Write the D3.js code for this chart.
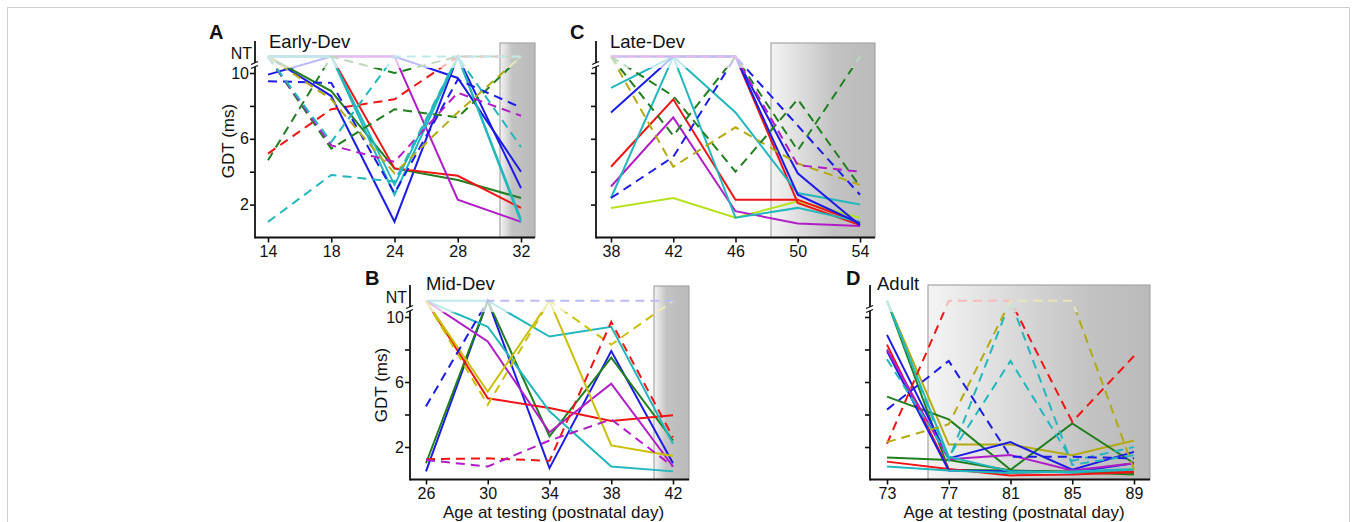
<!DOCTYPE html>
<html><head><meta charset="utf-8">
<script src="https://cdn.jsdelivr.net/npm/d3@7"></script>
<style>
body{margin:0;background:#fff}
svg{display:block}
text{font-family:"Liberation Sans",Arial,Helvetica,sans-serif;fill:#111}
</style>
</head><body>
<svg id="chart" width="1357" height="522"></svg>
<script>
// ---------- DATA ----------
const NT = 11; // "not testable" level, drawn above the axis break
const gdtTicks = [2, 4, 6, 8, 10];
const gdtLabelled = [2, 6, 10];

// A  Early-Dev
const earlyDays = ["14", "18", "24", "28", "32"];
const earlyKeys = ["blue","blue","green","red","magenta","cyan","cyan",
  "green-dash","green-dash","red-dash","blue-dash","magenta-dash","olive-dash","cyan-dash","cyan-dash"];
const earlyValues = [
  [9.9, NT, NT, 9.7, 4.0],
  [NT, 8.6, 0.96, NT, 3.0],
  [NT, 8.9, 4.2, 3.5, 2.4],
  [NT, NT, 4.2, 3.75, 1.8],
  [NT, NT, NT, 2.3, 0.95],
  [NT, NT, 2.6, NT, 0.95],
  [NT, NT, 3.2, NT, 1.1],
  [4.7, NT, 10.0, NT, NT],
  [NT, 5.4, 7.8, 7.3, NT],
  [5.1, 7.8, 8.4, NT, NT],
  [9.5, 9.4, 2.7, 9.6, 7.9],
  [NT, 5.6, 4.6, 8.8, 7.4],
  [NT, 8.4, 3.9, 7.6, NT],
  [0.95, 3.8, 3.4, NT, 5.5],
  [NT, 5.8, NT, NT, NT]
];

// B  Mid-Dev
const midDays = ["26", "30", "34", "38", "42"];
const midKeys = ["blue","green","red","cyan","cyan","magenta","yellow",
  "yellow-dash","blue-dash","red-dash","magenta-dash"];
const midValues = [
  [0.5, NT, 0.7, 7.9, 1.0],
  [1.0, NT, 2.65, 7.5, 2.4],
  [NT, 5.0, 4.4, 3.6, 3.95],
  [NT, 9.4, 4.2, 0.8, 0.5],
  [NT, NT, 8.8, 9.4, 2.2],
  [NT, 8.5, 2.9, 5.9, 0.8],
  [NT, 5.4, NT, 2.1, 1.45],
  [NT, 4.6, NT, 8.3, NT],
  [4.5, NT, NT, NT, NT],
  [1.25, 1.3, 1.15, 9.7, 2.6],
  [1.2, 0.8, 2.4, 3.7, 0.8]
];

// C  Late-Dev
const lateDays = ["38", "42", "46", "50", "54"];
const lateKeys = ["lime","red","red","magenta","cyan","cyan","blue","blue",
  "blue-dash","olive-dash","green-dash","green-dash","magenta-dash"];
const lateValues = [
  [1.8, 2.4, 1.2, 2.2, 1.2],
  [4.3, 8.4, 2.3, 2.3, 0.9],
  [NT, NT, NT, 2.1, 0.75],
  [3.1, 7.3, 1.6, 0.85, 0.7],
  [9.1, NT, 7.6, 2.7, 2.0],
  [2.4, NT, 1.2, 1.8, 0.95],
  [7.6, NT, NT, 3.9, 0.75],
  [NT, NT, NT, 2.6, 0.85],
  [2.4, 4.9, NT, 6.8, 2.6],
  [NT, 4.3, 6.7, 4.5, 3.2],
  [NT, 8.6, 4.0, 8.4, 3.1],
  [NT, 6.2, NT, 5.3, NT],
  [NT, NT, NT, 4.4, 4.0]
];

// D  Adult
const adultDays = ["73", "77", "81", "85", "89"];
const adultKeys = ["olive","green","green","green","red","red","blue","blue","magenta","cyan","cyan",
  "cyan-dash","cyan-dash","red-dash","olive-dash","blue-dash"];
const adultValues = [
  [NT, 2.15, 2.15, 1.5, 2.4],
  [NT, 0.6, 0.55, 0.5, 0.4],
  [5.1, 3.7, 0.6, 3.45, 1.0],
  [1.35, 1.2, 0.55, 0.45, 0.3],
  [8.3, 0.6, 0.4, 0.5, 0.5],
  [1.1, 0.65, 0.25, 0.3, 0.45],
  [8.9, 1.3, 2.3, 0.6, 1.7],
  [7.9, 0.55, 0.5, 0.45, 1.0],
  [8.0, 1.25, 1.5, 0.55, 1.0],
  [NT, 1.4, 0.5, 0.45, 0.6],
  [0.8, 0.55, 0.4, 0.5, 0.65],
  [7.4, 1.4, 7.3, 1.15, 2.0],
  [NT, 1.2, NT, 0.9, 1.5],
  [2.2, NT, NT, 3.55, 7.6],
  [2.3, 3.4, NT, NT, 0.6],
  [4.3, 7.3, 1.4, 1.4, 1.3]
];

// ---------- STYLE ----------
const palette = {
  blue: "#1c1ce6", red: "#f01414", green: "#1f7f1f", cyan: "#22b7bd",
  magenta: "#b01dc6", yellow: "#c9c005", olive: "#b3aa12", lime: "#b4e21c"
};
function styleOf(key) {
  const [c, d] = key.split("-");
  return { color: palette[c], dash: d === "dash" ? "9,6" : null };
}
const pale = c => d3.interpolateRgb(c, "#ffffff")(0.7);

const W = 1357, H = 522;
const svg = d3.select("#chart");
const defs = svg.append("defs");

svg.append("rect").attr("x", 7.5).attr("y", 7.5).attr("width", 1342).attr("height", 540)
  .attr("fill", "none").attr("stroke", "#cfcfcf");

const panels = [
  { id: "A", title: "Early-Dev", days: earlyDays, keys: earlyKeys, values: earlyValues,
    axisX: 255, x0: 268, x1: 521, xEnd: 535, yZero: 237.5, y10: 73, yTop: 41, axisY: 237.5,
    box: [500, 43, 535, 237.5], gradStop: 0.35, labels: true, xTitle: false,
    letter: [209, 39], titleAt: [269, 48], yTitle: [228, 141] },
  { id: "C", title: "Late-Dev", days: lateDays, keys: lateKeys, values: lateValues,
    axisX: 596, x0: 611, x1: 860, xEnd: 875, yZero: 237.5, y10: 73, yTop: 41, axisY: 237.5,
    box: [771, 43, 875, 237.5], gradStop: 0.6, labels: false, xTitle: false,
    letter: [570, 39], titleAt: [610, 48] },
  { id: "B", title: "Mid-Dev", days: midDays, keys: midKeys, values: midValues,
    axisX: 410, x0: 426, x1: 673, xEnd: 689, yZero: 479.5, y10: 317, yTop: 285, axisY: 479.5,
    box: [654, 286, 689, 479.5], gradStop: 0.35, labels: true, xTitle: true,
    letter: [365, 285], titleAt: [426, 290], yTitle: [381, 385] },
  { id: "D", title: "Adult", days: adultDays, keys: adultKeys, values: adultValues,
    axisX: 870, x0: 887, x1: 1134, xEnd: 1150, yZero: 479.5, y10: 317, yTop: 285, axisY: 479.5,
    box: [928, 285, 1150, 479.5], gradStop: 0.72, labels: false, xTitle: true,
    letter: [846, 285], titleAt: [877, 290] }
];

function drawPanel(p) {
  const g = svg.append("g");
  const x = d3.scalePoint().domain(p.days).range([p.x0, p.x1]);
  const y = d3.scaleLinear().domain([0, 10]).range([p.yZero, p.y10]);

  // shaded box
  const gid = "grad" + p.id;
  const gr = defs.append("linearGradient").attr("id", gid)
    .attr("x1", 0).attr("x2", 1).attr("y1", 0).attr("y2", 0);
  gr.append("stop").attr("offset", 0).attr("stop-color", "#f4f4f4");
  gr.append("stop").attr("offset", p.gradStop).attr("stop-color", "#c3c3c3");
  gr.append("stop").attr("offset", 1).attr("stop-color", "#bababa");
  g.append("rect").attr("x", p.box[0]).attr("y", p.box[1])
    .attr("width", p.box[2] - p.box[0]).attr("height", p.box[3] - p.box[1])
    .attr("fill", `url(#${gid})`).attr("stroke", "#a6a6a6").attr("stroke-width", 1.2);

  // clip regions: above the break (faded) / below the break (full colour)
  const fadeY = y(10.3);
  defs.append("clipPath").attr("id", "hi" + p.id).append("rect")
    .attr("x", 0).attr("y", 0).attr("width", W).attr("height", fadeY);
  defs.append("clipPath").attr("id", "lo" + p.id).append("rect")
    .attr("x", 0).attr("y", fadeY).attr("width", W).attr("height", H);

  const line = d3.line().x((d, i) => x(p.days[i])).y(d => y(d));
  p.values.forEach((vals, i) => {
    const st = styleOf(p.keys[i]);
    g.append("path").attr("d", line(vals)).attr("clip-path", `url(#hi${p.id})`)
      .attr("fill", "none").attr("stroke", pale(st.color)).attr("stroke-width", 2)
      .attr("stroke-dasharray", st.dash);
  });
  p.values.forEach((vals, i) => {
    const st = styleOf(p.keys[i]);
    g.append("path").attr("d", line(vals)).attr("clip-path", `url(#lo${p.id})`)
      .attr("fill", "none").attr("stroke", st.color).attr("stroke-width", 2)
      .attr("stroke-dasharray", st.dash);
  });

  // x axis
  const gx = g.append("g").attr("transform", `translate(0,${p.axisY})`)
    .call(d3.axisBottom(x).tickSize(5).tickPadding(3).tickSizeOuter(0));
  gx.select(".domain").remove();
  gx.attr("font-size", 16).attr("font-family", null);
  gx.selectAll("line").attr("stroke", "#111").attr("stroke-width", 1.6);
  g.append("line").attr("x1", p.axisX).attr("x2", p.xEnd).attr("y1", p.axisY).attr("y2", p.axisY)
    .attr("stroke", "#111").attr("stroke-width", 1.8);

  // y axis
  const gy = g.append("g").attr("transform", `translate(${p.axisX},0)`)
    .call(d3.axisLeft(y).tickValues(gdtTicks).tickSize(5).tickPadding(1)
      .tickFormat(d => (p.labels && gdtLabelled.includes(d)) ? d : ""));
  gy.select(".domain").remove();
  gy.attr("font-size", 16).attr("font-family", null);
  gy.selectAll("line").attr("stroke", "#111").attr("stroke-width", 1.6);
  const bTop = p.y10 - 10, bBot = p.y10 - 6;
  g.append("line").attr("x1", p.axisX).attr("x2", p.axisX).attr("y1", p.yTop).attr("y2", bTop)
    .attr("stroke", "#111").attr("stroke-width", 1.8);
  g.append("line").attr("x1", p.axisX).attr("x2", p.axisX).attr("y1", bBot).attr("y2", p.axisY + 0.9)
    .attr("stroke", "#111").attr("stroke-width", 1.8);
  [bTop, bBot].forEach(by => {
    g.append("line").attr("x1", p.axisX - 4).attr("x2", p.axisX + 3)
      .attr("y1", by + 1.5).attr("y2", by - 1.5).attr("stroke", "#111").attr("stroke-width", 1.2);
  });

  if (p.labels) {
    g.append("text").attr("x", p.axisX - 3).attr("y", y(NT) - 3).attr("dy", "0.32em")
      .attr("text-anchor", "end").attr("font-size", 16).text("NT");
    g.append("text").attr("transform", `translate(${p.yTitle[0]},${p.yTitle[1]}) rotate(-90)`)
      .attr("text-anchor", "middle").attr("dy", "0.35em").attr("font-size", 17).text("GDT (ms)");
  }
  if (p.xTitle) {
    g.append("text").attr("x", (p.axisX + p.xEnd) / 2 + 4).attr("y", 518)
      .attr("text-anchor", "middle").attr("font-size", 17).text("Age at testing (postnatal day)");
  }
  g.append("text").attr("x", p.letter[0]).attr("y", p.letter[1])
    .attr("font-size", 20).attr("font-weight", "bold").text(p.id);
  g.append("text").attr("x", p.titleAt[0]).attr("y", p.titleAt[1])
    .attr("font-size", 18.5).text(p.title);
}

panels.forEach(drawPanel);
</script>
</body></html>
